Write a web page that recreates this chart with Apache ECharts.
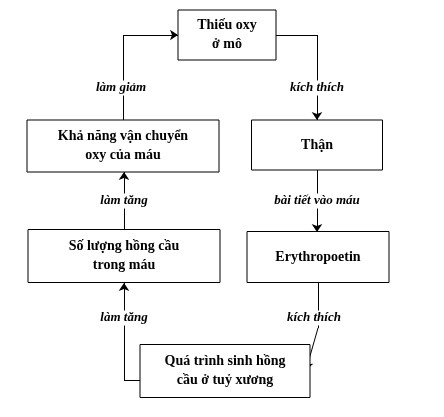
<!DOCTYPE html>
<html>
<head>
<meta charset="utf-8">
<script src="https://cdn.jsdelivr.net/npm/echarts@6/dist/echarts.min.js"></script>
</head>
<body style="margin:0;background:#fff">
<div id="main" style="width:444px;height:417px;"></div>
<script>
// boxes: [cx, cy, w, h, text]
var boxes = [
    [227, 35, 98, 50, 'Thiếu oxy\nở mô'],
    [317, 145, 131, 50, 'Thận'],
    [318, 257, 142, 51, 'Erythropoetin'],
    [225, 371, 170, 53, 'Quá trình sinh hồng\ncầu ở tuỷ xương'],
    [124, 256, 192, 53, 'Số lượng hồng cầu\ntrong máu'],
    [123, 146, 192, 52, 'Khả năng vận chuyển\noxy của máu']
];
// arrows as polylines, head at the last point
var arrows = [
    [[276, 35], [317, 35], [317, 120]],
    [[317, 170], [317, 232]],
    [[318, 283], [318, 328], [306, 370]],
    [[140, 380], [124, 380], [124, 283]],
    [[124, 230], [124, 172]],
    [[123, 120], [123, 35], [178, 35]]
];
// edge labels: [x, y, text]
var edgeLabels = [
    [317, 88, 'kích thích'],
    [317, 201, 'bài tiết vào máu'],
    [314, 318, 'kích thích'],
    [124, 318, 'làm tăng'],
    [124, 201, 'làm tăng'],
    [121, 88, 'làm giảm']
];

var segments = [];
arrows.forEach(function (a) {
    for (var i = 0; i < a.length - 1; i++) {
        segments.push({
            coords: [a[i], a[i + 1]],
            symbol: ['none', i === a.length - 2 ? 'arrow' : 'none']
        });
    }
});

var font = '"Liberation Serif", "DejaVu Serif", serif';
var chart = echarts.init(document.getElementById('main'));
chart.setOption({
    animation: false,
    grid: {left: 0, right: 0, top: 0, bottom: 0},
    xAxis: {type: 'value', min: 0, max: 444, show: false},
    yAxis: {type: 'value', min: 0, max: 417, inverse: true, show: false},
    series: [
        {
            type: 'lines',
            coordinateSystem: 'cartesian2d',
            symbolSize: 8,
            lineStyle: {color: '#000', width: 1, opacity: 1},
            data: segments,
            z: 1
        },
        {
            type: 'custom',
            data: edgeLabels,
            z: 3,
            renderItem: function (params, api) {
                var c = api.coord([api.value(0), api.value(1)]);
                return {
                    type: 'text',
                    x: c[0], y: c[1],
                    style: {
                        text: edgeLabels[params.dataIndex][2],
                        align: 'center', verticalAlign: 'middle',
                        font: 'italic bold 13px ' + font, fill: '#000',
                        backgroundColor: '#fff', padding: [1, 2]
                    }
                };
            }
        },
        {
            type: 'custom',
            data: boxes,
            z: 2,
            renderItem: function (params, api) {
                var c = api.coord([api.value(0), api.value(1)]);
                var s = api.size([api.value(2), api.value(3)]);
                return {
                    type: 'group',
                    children: [
                        {
                            type: 'rect',
                            shape: {x: c[0] - s[0] / 2, y: c[1] - s[1] / 2, width: s[0], height: s[1]},
                            style: {fill: '#fff', stroke: '#000', lineWidth: 1}
                        },
                        {
                            type: 'text',
                            x: c[0], y: c[1],
                            style: {
                                text: boxes[params.dataIndex][4],
                                align: 'center', verticalAlign: 'middle',
                                font: 'bold 14px ' + font, lineHeight: 19, fill: '#000'
                            }
                        }
                    ]
                };
            }
        }
    ]
});
</script>
</body>
</html>
